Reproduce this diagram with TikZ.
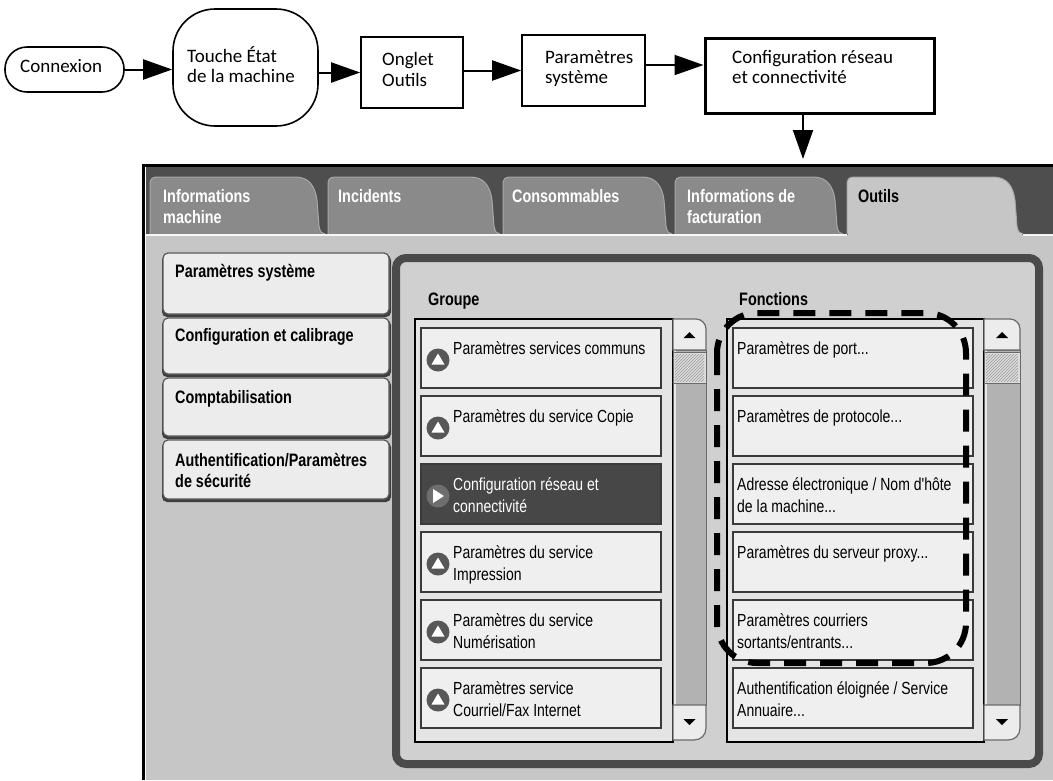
\documentclass[tikz,border=0pt]{standalone}
\usepackage{fontspec}
\setmainfont{Carlito}
\newfontfamily\uifont[FakeStretch=0.8]{Liberation Sans}
\usetikzlibrary{arrows.meta,patterns}
\definecolor{hdr}{HTML}{4E4E4E}
\definecolor{tabc}{HTML}{8A8A8A}
\definecolor{tabedge}{HTML}{A8A8A8}
\definecolor{bodyc}{HTML}{C6C6C6}
\definecolor{btnc}{HTML}{ECECEC}
\definecolor{btnedge}{HTML}{5A5A5A}
\definecolor{shad}{HTML}{3E3E3E}
\definecolor{frm}{HTML}{4A4A4A}
\definecolor{pnl}{HTML}{D0D0D0}
\definecolor{lst}{HTML}{E4E4E4}
\definecolor{itm}{HTML}{EFEFEF}
\definecolor{itmedge}{HTML}{3A3A3A}
\definecolor{sel}{HTML}{474747}
\definecolor{icn}{HTML}{575757}
\definecolor{icnsel}{HTML}{6E6E6E}
\definecolor{trk}{HTML}{B2B2B2}
\definecolor{sbedge}{HTML}{6A6A6A}
\definecolor{hatch}{HTML}{9A9A9A}
\definecolor{thumb}{HTML}{DCDCDC}

% tab: #1 left x, #2 bottom-right x, #3 fill
\newcommand\xtab[3]{%
  \filldraw[fill=#3, draw=tabedge, line width=1pt]
    (#1,234) -- (#1,184) .. controls (#1,179.5) and (#1+2,177) .. (#1+7,177)
    -- (#2-30,177) .. controls (#2-16,177) and (#2-10,186) .. (#2-8,200)
    -- (#2-6,226) .. controls (#2-5,232) and (#2-3,234) .. (#2,234);}
% scrollbar: #1 left x, #2 right x
\newcommand\xscroll[2]{%
  \filldraw[fill=trk, draw=sbedge, line width=1pt] (#1,350) rectangle (#2,705);
  \fill[white!70!trk] (#1+1,350) rectangle (#1+3,705);
  \filldraw[fill=btnc, draw=sbedge, line width=1.2pt]
    (#1,350) -- (#1,319) -- (#2-10,319) .. controls (#2-4.5,319) and (#2,323.5) .. (#2,329) -- (#2,350) -- cycle;
  \filldraw[fill=thumb, draw=sbedge, line width=1pt] (#1,352) rectangle (#2,383);
  \fill[pattern=north east lines, pattern color=hatch] (#1+2,354) rectangle (#2-2,381);
  \filldraw[fill=btnc, draw=sbedge, line width=1.2pt]
    (#1,705) -- (#2,705) -- (#2,728) .. controls (#2,735) and (#2-5,740) .. (#2-12,740) -- (#1,740) -- cycle;
  \fill[black] ({(#1+#2)/2-6},338) -- ({(#1+#2)/2+6},338) -- ({(#1+#2)/2},332) -- cycle;
  \fill[black] ({(#1+#2)/2-6},719) -- ({(#1+#2)/2+6},719) -- ({(#1+#2)/2},725) -- cycle;}
% up-triangle icon: #1 name, #2 x, #3 y
\newcommand\xicon[3]{%
  \node[icon] (#1) at (#2,#3) {};
  \fill[white] (#2-6.5,#3+4.5) -- (#2+6.5,#3+4.5) -- (#2,#3-6.5) -- cycle;}

\begin{document}
\begin{tikzpicture}[x=1pt,y=-1pt,
  box/.style={draw, line width=1.6pt, inner sep=0pt},
  arr/.style={line width=2pt, -{Triangle[length=29pt,width=20pt]}},
  ft/.style={font=\fontsize{19}{20}\selectfont, inner sep=0pt, anchor=base west},
  ui/.style={font=\uifont\fontsize{17.5}{21}\selectfont, inner sep=0pt, anchor=base west},
  uib/.style={font=\uifont\bfseries\fontsize{18}{21}\selectfont, inner sep=0pt, anchor=base west},
  item/.style={fill=itm, draw=itmedge, line width=1.2pt},
  icon/.style={circle, fill=icn, minimum size=23pt, inner sep=0pt},
  lbtn/.style={fill=btnc, draw=btnedge, line width=1.2pt, rounded corners=5pt},
  lshad/.style={fill=shad, rounded corners=5pt}]
\useasboundingbox (0,0) rectangle (1053,780);

% ---------------- flowchart ----------------
\node[box, rounded corners=22pt, minimum width=119pt, minimum height=45pt] (connexion) at (64.5,69.5) {};
\node[ft] (tconn) at (20,72) {Connexion};
\node[box, rounded corners=42pt, minimum width=145pt, minimum height=117pt] (touche) at (245.5,67.5) {};
\node[ft] (ttouche1) at (187,62) {Touche État};
\node[ft] (ttouche2) at (187,82) {de la machine};
\node[box, minimum width=102pt, minimum height=71pt] (onglet) at (412,72.5) {};
\node[ft] (tonglet1) at (382,65) {Onglet};
\node[ft] (tonglet2) at (382,86) {Outils};
\node[box, minimum width=123pt, minimum height=71pt] (param) at (583.5,70.5) {};
\node[ft] (tparam1) at (545,63) {Paramètres};
\node[ft] (tparam2) at (545,83) {système};
\node[box, line width=3pt, minimum width=229pt, minimum height=75pt] (config) at (819.5,75.5) {};
\node[ft] (tconfig1) at (732,63) {Configuration réseau};
\node[ft] (tconfig2) at (732,83) {et connectivité};

\draw[arr] (connexion.east) -- (connexion.east -| touche.west);
\draw[arr] (touche.east |- onglet.west) -- (onglet.west);
\draw[arr] (onglet.east |- param.west) -- (param.west);
\coordinate (pe) at ([yshift=5.5pt]param.east);
\draw[arr] (pe) -- (pe -| config.west);
\coordinate (scrtop) at (803,159);
\draw[arr] (scrtop |- config.south) -- (scrtop);

% ---------------- screen ----------------
\fill[hdr] (146,167) rectangle (1053,235);
\fill[bodyc] (146,235) rectangle (1053,780);
\draw[line width=3pt] (143.5,780) -- (143.5,165.5) -- (1053,165.5);

\xtab{150}{325}{tabc}
\xtab{328}{500}{tabc}
\xtab{503}{672}{tabc}
\xtab{675}{843}{tabc}
\xtab{847}{1023}{bodyc}
\fill[bodyc] (848,233) rectangle (1022,240);
\draw[white!85!bodyc, line width=1.5pt] (146,235) -- (847,235) (1023,235) -- (1053,235);

\node[uib, white] (tab1a) at (163,202) {Informations};
\node[uib, white] (tab1b) at (163,223) {machine};
\node[uib, white] (tab2) at (338,202) {Incidents};
\node[uib, white] (tab3) at (512,202) {Consommables};
\node[uib, white] (tab4a) at (687,202) {Informations de};
\node[uib, white] (tab4b) at (687,223) {facturation};
\node[uib] (tab5) at (858,202) {Outils};

% left buttons
\fill[lshad] (162,255) rectangle (391,317);
\filldraw[lbtn] (163,253) rectangle (389,314);
\fill[lshad] (162,320) rectangle (391,377);
\filldraw[lbtn] (163,318) rectangle (389,374);
\fill[lshad] (162,380) rectangle (391,439);
\filldraw[lbtn] (163,378) rectangle (389,436);
\fill[lshad] (162,442) rectangle (391,502);
\filldraw[lbtn] (163,440) rectangle (389,499);
\node[uib] (b1) at (175,277) {Paramètres système};
\node[uib] (b2) at (175,341) {Configuration et calibrage};
\node[uib] (b3) at (175,403) {Comptabilisation};
\node[uib] (b4a) at (175,466) {Authentification/Paramètres};
\node[uib] (b4b) at (175,487) {de sécurité};

% right panel
\filldraw[fill=pnl, draw=frm, line width=8pt, rounded corners=10pt] (396,258) rectangle (1039,764);
\node[uib] (lgroupe) at (428,305) {Groupe};
\node[uib] (lfonct) at (739,305) {Fonctions};

% list boxes
\filldraw[fill=lst, draw=black, line width=1.3pt] (415,319) rectangle (673,742);
\filldraw[fill=lst, draw=black, line width=1.3pt] (727,319) rectangle (984,742);
\xscroll{673}{706}
\xscroll{984}{1020}

% group items
\filldraw[item] (421,328) rectangle (661,388);
\filldraw[item] (421,396) rectangle (661,456);
\filldraw[fill=sel, draw=itmedge, line width=1.2pt] (421,464) rectangle (661,524);
\filldraw[item] (421,532) rectangle (661,592);
\filldraw[item] (421,600) rectangle (661,660);
\filldraw[item] (421,668) rectangle (661,728);

\xicon{gi1}{438}{360}
\xicon{gi2}{438}{428}
\node[icon, fill=icnsel] (gi3) at (438,496) {};
\fill[white] (433,489) -- (433,503) -- (444,496) -- cycle;
\xicon{gi4}{438}{564}
\xicon{gi5}{438}{632}
\xicon{gi6}{438}{700}

\node[ui] (g1) at (453,354) {Paramètres services communs};
\node[ui] (g2) at (453,422) {Paramètres du service Copie};
\node[ui, white] (g3a) at (453,490) {Configuration réseau et};
\node[ui, white] (g3b) at (453,512) {connectivité};
\node[ui] (g4a) at (453,558) {Paramètres du service};
\node[ui] (g4b) at (453,580) {Impression};
\node[ui] (g5a) at (453,626) {Paramètres du service};
\node[ui] (g5b) at (453,648) {Numérisation};
\node[ui] (g6a) at (453,694) {Paramètres service};
\node[ui] (g6b) at (453,716) {Courriel/Fax Internet};

% function items
\filldraw[item] (733,328) rectangle (973,388);
\filldraw[item] (733,396) rectangle (973,456);
\filldraw[item] (733,464) rectangle (973,524);
\filldraw[item] (733,532) rectangle (973,592);
\filldraw[item] (733,600) rectangle (973,660);
\filldraw[item] (733,668) rectangle (973,728);

\node[ui] (f1) at (737,354) {Paramètres de port...};
\node[ui] (f2) at (737,422) {Paramètres de protocole...};
\node[ui] (f3a) at (737,490) {Adresse électronique / Nom d{\char"27}hôte};
\node[ui] (f3b) at (737,512) {de la machine...};
\node[ui] (f4) at (737,558) {Paramètres du serveur proxy...};
\node[ui] (f5a) at (737,626) {Paramètres courriers};
\node[ui] (f5b) at (737,648) {sortants/entrants...};
\node[ui] (f6a) at (737,694) {Authentification éloignée / Service};
\node[ui] (f6b) at (737,716) {Annuaire...};

% dashed highlight
\draw[line width=6pt, dash pattern=on 22pt off 14pt, rounded corners=40pt] (717,313) rectangle (966,663);
\end{tikzpicture}
\end{document}
